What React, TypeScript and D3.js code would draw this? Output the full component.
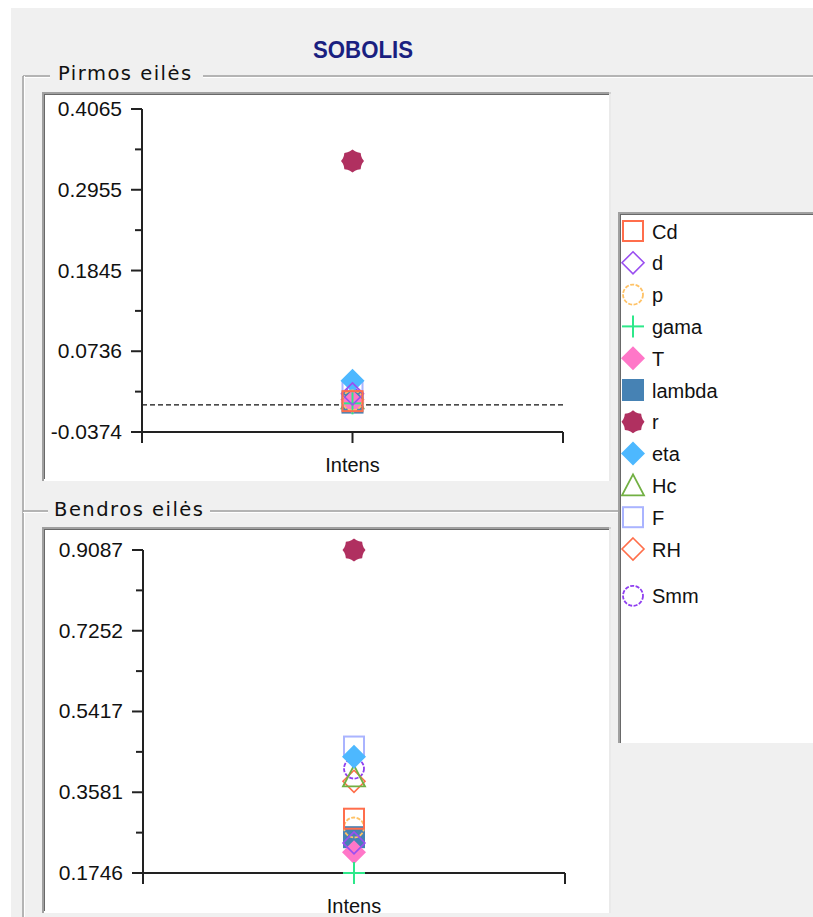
import React from 'react';
import * as d3 from 'd3';

// ---------- DATA ----------
const categories = ['Intens'];
const seriesNames = ['Cd', 'd', 'p', 'gama', 'T', 'lambda', 'r', 'eta', 'Hc', 'F', 'RH', 'Smm'];
const seriesColors = ['#ff6e4c', '#9a4ff0', '#ffc266', '#2ee88a', '#ff77c8', '#4682b4', '#b03060', '#4db8ff', '#72b043', '#aab4ff', '#ff6e4a', '#8f3ff0'];
const seriesShapes = ['square', 'diamond', 'circle', 'plus', 'diamondFill', 'squareFill', 'gear', 'diamondFill', 'triangle', 'square', 'diamond', 'circle'];
const firstOrderValues = [0.005, 0.015, 0.006, 0.002, 0.004, 0.003, 0.335, 0.033, 0.009, 0.019, 0.007, 0.008];
const totalOrderValues = [0.298, 0.243, 0.278, 0.1746, 0.222, 0.256, 0.9087, 0.439, 0.394, 0.462, 0.383, 0.412];
const firstOrderTicks = [-0.0374, 0.0736, 0.1845, 0.2955, 0.4065];
const totalOrderTicks = [0.1746, 0.3581, 0.5417, 0.7252, 0.9087];
const titleText = 'SOBOLIS';
const firstTitle = 'Pirmos eilės';
const totalTitle = 'Bendros eilės';

const FONT = '"Liberation Sans", Arial, sans-serif';

function Marker({ shape, color, x, y }: { shape: string; color: string; x: number; y: number }) {
  const h = 10;
  switch (shape) {
    case 'square':
      return <rect x={x - h} y={y - h} width={2 * h} height={2 * h} fill="none" stroke={color} strokeWidth={2} />;
    case 'squareFill':
      return <rect x={x - h - 1} y={y - h - 1} width={2 * h + 2} height={2 * h + 2} fill={color} />;
    case 'diamond':
      return <path d={`M${x},${y - 11}L${x + 11},${y}L${x},${y + 11}L${x - 11},${y}Z`} fill="none" stroke={color} strokeWidth={1.6} />;
    case 'diamondFill':
      return <path d={`M${x},${y - 12}L${x + 12},${y}L${x},${y + 12}L${x - 12},${y}Z`} fill={color} />;
    case 'circle':
      return <circle cx={x} cy={y} r={h} fill="none" stroke={color} strokeWidth={1.8} strokeDasharray="4 1.5" />;
    case 'plus':
      return (
        <g stroke={color} strokeWidth={2}>
          <line x1={x - 11} x2={x + 11} y1={y} y2={y} />
          <line x1={x} x2={x} y1={y - 11} y2={y + 11} />
        </g>
      );
    case 'triangle':
      return <path d={`M${x},${y - 11}L${x + 11},${y + 10}L${x - 11},${y + 10}Z`} fill="none" stroke={color} strokeWidth={1.8} />;
    case 'gear': {
      const pts = d3.range(24).map((i) => {
        const a = (i / 24) * Math.PI * 2;
        const r = i % 3 === 0 ? 11.5 : 10;
        return [x + r * Math.cos(a), y + r * Math.sin(a)];
      });
      return <path d={'M' + pts.map((p) => p.join(',')).join('L') + 'Z'} fill={color} />;
    }
    default:
      return null;
  }
}

function Etched({ x1, y1, x2, y2 }: { x1: number; y1: number; x2: number; y2: number }) {
  const horiz = y1 === y2;
  return (
    <g>
      <line x1={x1} y1={y1} x2={x2} y2={y2} stroke="#a0a0a0" strokeWidth={1.5} />
      <line x1={horiz ? x1 : x1 + 1.5} y1={horiz ? y1 + 1.5 : y1} x2={horiz ? x2 : x2 + 1.5} y2={horiz ? y2 + 1.5 : y2} stroke="#ffffff" strokeWidth={1} />
    </g>
  );
}

function SunkenBox({ x, y, w, h }: { x: number; y: number; w: number; h: number }) {
  return (
    <g>
      <rect x={x} y={y} width={w} height={h} fill="#ffffff" />
      <line x1={x} y1={y + 1} x2={x + w} y2={y + 1} stroke="#a0a0a0" strokeWidth={2} />
      <line x1={x + 1} y1={y} x2={x + 1} y2={y + h} stroke="#a0a0a0" strokeWidth={2} />
      <line x1={x + 2} y1={y + 2.5} x2={x + w - 2} y2={y + 2.5} stroke="#696969" strokeWidth={1} />
      <line x1={x + 2.5} y1={y + 2} x2={x + 2.5} y2={y + h - 2} stroke="#696969" strokeWidth={1} />
      <line x1={x + w - 1} y1={y} x2={x + w - 1} y2={y + h} stroke="#e3e3e3" strokeWidth={1.5} />
    </g>
  );
}

function Chart({ values, ticks, top, bottom, left, right, zeroLine }: {
  values: number[]; ticks: number[]; top: number; bottom: number; left: number; right: number; zeroLine: boolean;
}) {
  const y = d3.scaleLinear().domain([ticks[0], ticks[ticks.length - 1]]).range([bottom, top]);
  const x = d3.scaleBand<string>().domain(categories).range([left, right]).paddingInner(0).paddingOuter(0);
  const minor = d3.range(ticks.length - 1).map((i) => (ticks[i] + ticks[i + 1]) / 2);
  const xTicks = [left, ...categories.map((c) => (x(c) as number) + x.bandwidth() / 2), right];
  const cx = (x(categories[0]) as number) + x.bandwidth() / 2;
  const order = d3.range(values.length).reverse();
  return (
    <g>
      {zeroLine && (
        <line x1={left} x2={right} y1={y(0)} y2={y(0)} stroke="#111" strokeWidth={1.3} strokeDasharray="5 3" />
      )}
      {/* y axis */}
      <line x1={left} x2={left} y1={top} y2={bottom + 11} stroke="#222" strokeWidth={2} />
      {ticks.map((t, i) => (
        <g key={'t' + i}>
          <line x1={left - 11} x2={left} y1={y(t)} y2={y(t)} stroke="#222" strokeWidth={2} />
          <text x={left - 20} y={y(t) + 7} textAnchor="end" fontFamily={FONT} fontSize={21} fill="#111">
            {t.toFixed(4)}
          </text>
        </g>
      ))}
      {minor.map((t, i) => (
        <line key={'m' + i} x1={left - 7} x2={left} y1={y(t)} y2={y(t)} stroke="#222" strokeWidth={2} />
      ))}
      {/* x axis */}
      <line x1={left} x2={right} y1={bottom} y2={bottom} stroke="#222" strokeWidth={2} />
      {xTicks.map((t, i) => (
        <line key={'x' + i} x1={t} x2={t} y1={bottom} y2={bottom + 11} stroke="#222" strokeWidth={2} />
      ))}
      {categories.map((c) => (
        <text key={c} x={(x(c) as number) + x.bandwidth() / 2} y={bottom + 40} textAnchor="middle" fontFamily={FONT} fontSize={20} fill="#111">
          {c}
        </text>
      ))}
      {order.map((i) => (
        <Marker key={'p' + i} shape={seriesShapes[i]} color={seriesColors[i]} x={cx} y={y(values[i])} />
      ))}
    </g>
  );
}

export default function App() {
  const W = 813;
  const H = 917;
  return (
    <svg width={W} height={H} style={{ position: 'fixed', left: 0, top: 0, display: 'block' }}>
      <rect x={0} y={0} width={W} height={H} fill="#ffffff" />
      <rect x={11} y={8} width={W - 11} height={H - 8} fill="#f0f0f0" />

      <text x={363} y={58} textAnchor="middle" fontFamily={FONT} fontWeight="bold" fontSize={23} fill="#1a1f80" textLength={100} lengthAdjust="spacingAndGlyphs">
        {titleText}
      </text>

      {/* group box: first order */}
      <Etched x1={23} y1={76} x2={50} y2={76} />
      <Etched x1={203} y1={76} x2={W} y2={76} />
      <Etched x1={23} y1={76} x2={23} y2={H} />
      <text x={58} y={80} fontFamily='"DejaVu Sans", sans-serif' fontSize={19.5} letterSpacing={1.5} fill="#111">
        {firstTitle}
      </text>
      <SunkenBox x={42} y={92} w={569} h={389} />

      {/* group box: total order */}
      <Etched x1={23} y1={511} x2={48} y2={511} />
      <Etched x1={210} y1={511} x2={618} y2={511} />
      <text x={54} y={516} fontFamily='"DejaVu Sans", sans-serif' fontSize={19.5} letterSpacing={1.5} fill="#111">
        {totalTitle}
      </text>
      <SunkenBox x={42} y={527} w={569} h={386} />

      <Chart values={firstOrderValues} ticks={firstOrderTicks} top={109} bottom={432} left={142} right={563} zeroLine={true} />
      <Chart values={totalOrderValues} ticks={totalOrderTicks} top={550} bottom={873} left={143} right={565} zeroLine={false} />

      {/* legend */}
      <g>
        <rect x={618} y={212} width={W - 618 + 5} height={531} fill="#ffffff" />
        <line x1={618} y1={213} x2={W} y2={213} stroke="#a0a0a0" strokeWidth={2} />
        <line x1={619} y1={212} x2={619} y2={743} stroke="#a0a0a0" strokeWidth={2} />
        <line x1={620} y1={214.5} x2={W} y2={214.5} stroke="#696969" strokeWidth={1} />
        <line x1={620.5} y1={214} x2={620.5} y2={743} stroke="#696969" strokeWidth={1} />
        {seriesNames.map((n, i) => {
          const ly = 231 + i * 31.8 + (i === seriesNames.length - 1 ? 15 : 0);
          return (
            <g key={n}>
              <Marker shape={seriesShapes[i]} color={seriesColors[i]} x={633} y={ly} />
              <text x={652} y={ly + 7.5} fontFamily={FONT} fontSize={20} fill="#111">
                {n}
              </text>
            </g>
          );
        })}
      </g>
    </svg>
  );
}
